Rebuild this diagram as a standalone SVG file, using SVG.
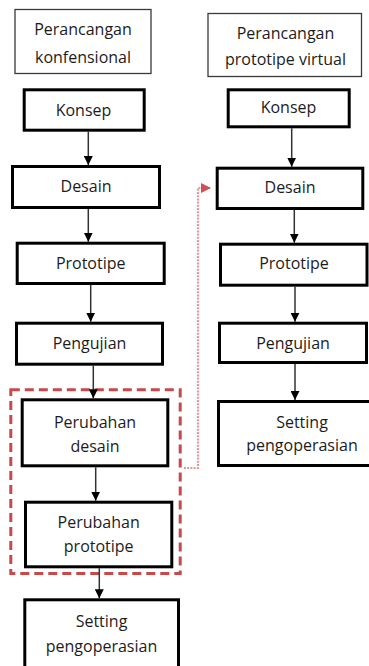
<svg xmlns="http://www.w3.org/2000/svg" width="369" height="666" viewBox="0 0 369 666">
  <style>
    .hdr { fill: #ffffff; stroke: #3a3a3a; stroke-width: 1.3; }
    .box { fill: #ffffff; stroke: #000000; stroke-width: 3; }
    .lbl { font-family: "Open Sans", "Noto Sans", "Liberation Sans", sans-serif; font-size: 16px; fill: #1c1c1c; text-anchor: middle; }
    .flow { stroke: #333333; stroke-width: 1.5; fill: none; marker-end: url(#arrow); }
    .group { fill: none; stroke: #c9484a; stroke-width: 3; stroke-dasharray: 9 5; }
    .link { fill: none; stroke: #e4979a; stroke-width: 2.2; stroke-dasharray: 2 1.2; marker-end: url(#arrowRed); }
  </style>
  <defs>
    <marker id="arrow" viewBox="0 0 10 10" refX="10" refY="5" markerWidth="9" markerHeight="9" markerUnits="userSpaceOnUse" orient="auto">
      <path d="M0,0 L10,5 L0,10 Z" fill="#000000"/>
    </marker>
    <marker id="arrowRed" viewBox="0 0 10 10" refX="10" refY="5" markerWidth="10" markerHeight="10" markerUnits="userSpaceOnUse" orient="auto">
      <path d="M0,0 L10,5 L0,10 Z" fill="#d04f52"/>
    </marker>
  </defs>

  <rect width="369" height="666" fill="#ffffff"/>

  <!-- dashed outline around the redesign steps -->
  <rect id="redesign-group" class="group" x="10.8" y="389.8" width="169.4" height="183.7"/>

  <!-- connectors -->
  <g id="connectors">
    <line class="flow" x1="88.3" y1="131.7" x2="88.3" y2="165"/>
    <line class="flow" x1="88.3" y1="209" x2="88.3" y2="241.7"/>
    <line class="flow" x1="90.7" y1="285" x2="90.7" y2="321.7"/>
    <line class="flow" x1="93.3" y1="365.7" x2="93.3" y2="398.3"/>
    <line class="flow" x1="95.7" y1="467.3" x2="95.7" y2="500.7"/>
    <line class="flow" x1="99.3" y1="568.3" x2="99.3" y2="598.3"/>

    <line class="flow" x1="291.7" y1="128.3" x2="291.7" y2="166.7"/>
    <line class="flow" x1="294.3" y1="210" x2="294.3" y2="242.7"/>
    <line class="flow" x1="295" y1="286.7" x2="295" y2="321.7"/>
    <line class="flow" x1="295" y1="364" x2="295" y2="400"/>

    <polyline class="link" points="184,468 198,468 198,188 211,188"/>
  </g>

  <!-- left column: conventional design -->
  <g id="conv-header">
    <rect class="hdr" x="15" y="9.5" width="136" height="64"/>
    <text class="lbl" x="83" y="34.5">Perancangan</text>
    <text class="lbl" x="83" y="62.5">konfensional</text>
  </g>
  <g id="conv-konsep">
    <rect class="box" x="24.2" y="89.8" width="120" height="40.4"/>
    <text class="lbl" x="83.5" y="116">Konsep</text>
  </g>
  <g id="conv-desain">
    <rect class="box" x="12.5" y="166.5" width="147" height="41"/>
    <text class="lbl" x="86" y="191.5">Desain</text>
  </g>
  <g id="conv-prototipe">
    <rect class="box" x="17.2" y="243.2" width="147" height="40.3"/>
    <text class="lbl" x="90.7" y="268.5">Prototipe</text>
  </g>
  <g id="conv-pengujian">
    <rect class="box" x="16.5" y="323.2" width="146" height="41"/>
    <text class="lbl" x="89.5" y="348.5">Pengujian</text>
  </g>
  <g id="conv-perubahan-desain">
    <rect class="box" x="22.2" y="399.8" width="145.6" height="66"/>
    <text class="lbl" x="95" y="427.5">Perubahan</text>
    <text class="lbl" x="95" y="451.5">desain</text>
  </g>
  <g id="conv-perubahan-prototipe">
    <rect class="box" x="25.5" y="502.2" width="146.3" height="64.6"/>
    <text class="lbl" x="98.7" y="527.5">Perubahan</text>
    <text class="lbl" x="98.7" y="551.5">prototipe</text>
  </g>
  <g id="conv-setting">
    <rect class="box" x="24.8" y="599.8" width="153.7" height="80"/>
    <text class="lbl" x="101.5" y="626.5">Setting</text>
    <text class="lbl" x="101.5" y="651.5">pengoperasian</text>
  </g>

  <!-- right column: virtual prototype design -->
  <g id="virt-header">
    <rect class="hdr" x="208" y="13.5" width="153.5" height="63"/>
    <text class="lbl" x="285.5" y="39">Perancangan</text>
    <text class="lbl" x="285.5" y="65">prototipe virtual</text>
  </g>
  <g id="virt-konsep">
    <rect class="box" x="228.2" y="89.8" width="121" height="37"/>
    <text class="lbl" x="288.5" y="113">Konsep</text>
  </g>
  <g id="virt-desain">
    <rect class="box" x="217.2" y="168.2" width="145.6" height="40.3"/>
    <text class="lbl" x="290" y="192.5">Desain</text>
  </g>
  <g id="virt-prototipe">
    <rect class="box" x="220.5" y="244.2" width="146.5" height="41"/>
    <text class="lbl" x="294" y="269">Prototipe</text>
  </g>
  <g id="virt-pengujian">
    <rect class="box" x="219.5" y="323.2" width="147" height="39.3"/>
    <text class="lbl" x="293" y="348.5">Pengujian</text>
  </g>
  <g id="virt-setting">
    <rect class="box" x="218.5" y="401.5" width="160" height="64"/>
    <text class="lbl" x="302" y="428">Setting</text>
    <text class="lbl" x="302" y="450.5">pengoperasian</text>
  </g>
</svg>
